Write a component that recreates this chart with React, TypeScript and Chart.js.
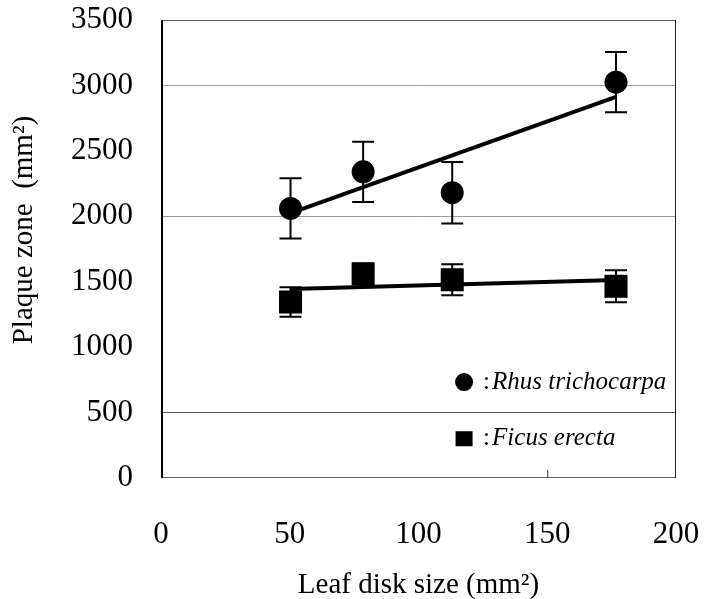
import React, { useEffect, useRef } from "react";
import { Chart, registerables } from "chart.js";

Chart.register(...registerables);

// Leaf disk sizes (mm²)
const diskSizes = [50.3, 78.5, 113.1, 176.7];
// Rhus trichocarpa: plaque zone mean and error
const rhusMean = [2060, 2340, 2180, 3025];
const rhusErr = [230, 230, 235, 230];
// Ficus erecta: plaque zone mean and error
const ficusMean = [1345, 1560, 1515, 1465];
const ficusErr = [112, 80, 118, 122];
// Linear trend lines (endpoints)
const fitX = [50.3, 176.7];
const rhusFit = [2025, 2912];
const ficusFit = [1444, 1513];
// Axis ticks
const yTicks = [0, 500, 1000, 1500, 2000, 2500, 3000, 3500];
const xTicks = [0, 50, 100, 150, 200];
const gridShown = [500, 2000, 3000];
// Legend labels
const legendNames = ["Rhus trichocarpa", "Ficus erecta"];

const FONT = "'Liberation Serif', 'Times New Roman', serif";

export default function App() {
  const ref = useRef<HTMLCanvasElement | null>(null);

  useEffect(() => {
    const canvas = ref.current;
    if (!canvas) return;

    const errorBars = {
      id: "errorBars",
      beforeDatasetsDraw(chart: any) {
        const { ctx, scales } = chart;
        const xs = scales.x;
        const ys = scales.y;
        ctx.save();
        ctx.strokeStyle = "#000";
        ctx.lineWidth = 2;
        const draw = (means: number[], errs: number[]) => {
          means.forEach((m, i) => {
            const px = xs.getPixelForValue(diskSizes[i]);
            const top = ys.getPixelForValue(m + errs[i]);
            const bot = ys.getPixelForValue(m - errs[i]);
            ctx.beginPath();
            ctx.moveTo(px, top);
            ctx.lineTo(px, bot);
            ctx.moveTo(px - 11, top);
            ctx.lineTo(px + 11, top);
            ctx.moveTo(px - 11, bot);
            ctx.lineTo(px + 11, bot);
            ctx.stroke();
          });
        };
        draw(rhusMean, rhusErr);
        draw(ficusMean, ficusErr);
        ctx.restore();
      },
    };

    const frame = {
      id: "frame",
      beforeDatasetsDraw(chart: any) {
        const { ctx, chartArea: a } = chart;
        ctx.save();
        ctx.strokeStyle = "#666";
        ctx.lineWidth = 1;
        ctx.strokeRect(a.left + 0.5, a.top + 0.5, a.right - a.left - 1, a.bottom - a.top - 1);
        ctx.strokeStyle = "#222";
        ctx.beginPath();
        ctx.moveTo(a.right - 0.5, a.top);
        ctx.lineTo(a.right - 0.5, a.bottom);
        ctx.stroke();
        ctx.strokeStyle = "#000";
        ctx.lineWidth = 2;
        ctx.beginPath();
        ctx.moveTo(a.left + 1, a.top);
        ctx.lineTo(a.left + 1, a.bottom);
        ctx.stroke();
        // small tick at x = 150
        const tx = chart.scales.x.getPixelForValue(150);
        ctx.lineWidth = 1;
        ctx.strokeStyle = "#333";
        ctx.beginPath();
        ctx.moveTo(tx + 0.5, a.bottom);
        ctx.lineTo(tx + 0.5, a.bottom - 8);
        ctx.stroke();
        ctx.restore();
      },
    };

    const titlesAndLegend = {
      id: "titlesAndLegend",
      afterDraw(chart: any) {
        const { ctx, chartArea: a, scales } = chart;
        ctx.save();
        ctx.fillStyle = "#000";
        // Y title
        ctx.font = `29px ${FONT}`;
        ctx.textAlign = "center";
        ctx.textBaseline = "middle";
        ctx.save();
        ctx.translate(24, (a.top + a.bottom) / 2 - 19);
        ctx.rotate(-Math.PI / 2);
        ctx.fillText("Plaque zone  (mm\u00B2)", 0, 0);
        ctx.restore();
        // X title
        ctx.font = `29px ${FONT}`;
        ctx.fillText("Leaf disk size (mm\u00B2)", (a.left + a.right) / 2, 585);

        // Legend
        const lx = scales.x.getPixelForValue(117.7);
        const y1 = scales.y.getPixelForValue(733);
        const y2 = scales.y.getPixelForValue(300);
        ctx.beginPath();
        ctx.arc(lx, y1, 9, 0, Math.PI * 2);
        ctx.fill();
        ctx.fillRect(lx - 8.5, y2 - 7.5, 17, 15);
        ctx.textAlign = "left";
        ctx.font = `25px ${FONT}`;
        ctx.fillText(":", lx + 19, y1);
        ctx.fillText(":", lx + 19, y2);
        ctx.font = `italic 25px ${FONT}`;
        ctx.fillText(legendNames[0], lx + 28, y1);
        ctx.fillText(legendNames[1], lx + 28, y2);
        ctx.restore();
      },
    };

    const chart = new Chart(canvas, {
      type: "scatter",
      data: {
        datasets: [
          {
            type: "line",
            data: fitX.map((x, i) => ({ x, y: rhusFit[i] })),
            borderColor: "#000",
            borderWidth: 4,
            pointRadius: 0,
            fill: false,
          },
          {
            type: "line",
            data: fitX.map((x, i) => ({ x, y: ficusFit[i] })),
            borderColor: "#000",
            borderWidth: 4,
            pointRadius: 0,
            fill: false,
          },
          {
            label: legendNames[0],
            data: diskSizes.map((x, i) => ({ x, y: rhusMean[i] })),
            pointStyle: "circle",
            pointRadius: 11.5,
            backgroundColor: "#000",
            borderColor: "#000",
            borderWidth: 0,
          },
          {
            label: legendNames[1],
            data: diskSizes.map((x, i) => ({ x, y: ficusMean[i] })),
            pointStyle: "rect",
            pointRadius: 16.3,
            backgroundColor: "#000",
            borderColor: "#000",
            borderWidth: 0,
          },
        ],
      },
      options: {
        responsive: false,
        animation: false,
        layout: { padding: { left: 0, top: 20, right: 41, bottom: 0 } },
        plugins: {
          legend: { display: false },
          tooltip: { enabled: false },
        },
        scales: {
          x: {
            type: "linear",
            position: "bottom",
            min: 0,
            max: 200,
            afterBuildTicks: (s: any) => {
              s.ticks = xTicks.map((v) => ({ value: v }));
            },
            afterFit: (s: any) => {
              s.height = 121;
            },
            ticks: {
              padding: 0,
              color: "#000",
              font: { family: FONT, size: 31 },
              maxRotation: 0,
              callback: (v: any) => String(v),
            },
            grid: {
              display: true,
              drawOnChartArea: false,
              drawTicks: true,
              tickLength: 38,
              color: "rgba(0,0,0,0)",
              tickColor: "rgba(0,0,0,0)",
            },
            border: { display: false },
          },
          y: {
            type: "linear",
            min: 0,
            max: 3500,
            afterBuildTicks: (s: any) => {
              s.ticks = yTicks.map((v) => ({ value: v }));
            },
            afterFit: (s: any) => {
              s.width = 161;
            },
            ticks: {
              padding: 0,
              color: "#000",
              font: { family: FONT, size: 31 },
              callback: (v: any) => String(v),
            },
            grid: {
              drawTicks: true,
              tickLength: 28,
              tickColor: "rgba(0,0,0,0)",
              lineWidth: 1,
              color: (c: any) => {
                const v = c.tick ? c.tick.value : null;
                if (v === 500) return "#555";
                if (gridShown.includes(v)) return "#9a9a9a";
                return "rgba(0,0,0,0)";
              },
            },
            border: { display: false },
          },
        },
      },
      plugins: [frame, errorBars, titlesAndLegend],
    });

    return () => chart.destroy();
  }, []);

  return (
    <div style={{ position: "absolute", left: 0, top: 0, width: 717, height: 599, background: "#fff" }}>
      <canvas ref={ref} width={717} height={599} />
    </div>
  );
}
